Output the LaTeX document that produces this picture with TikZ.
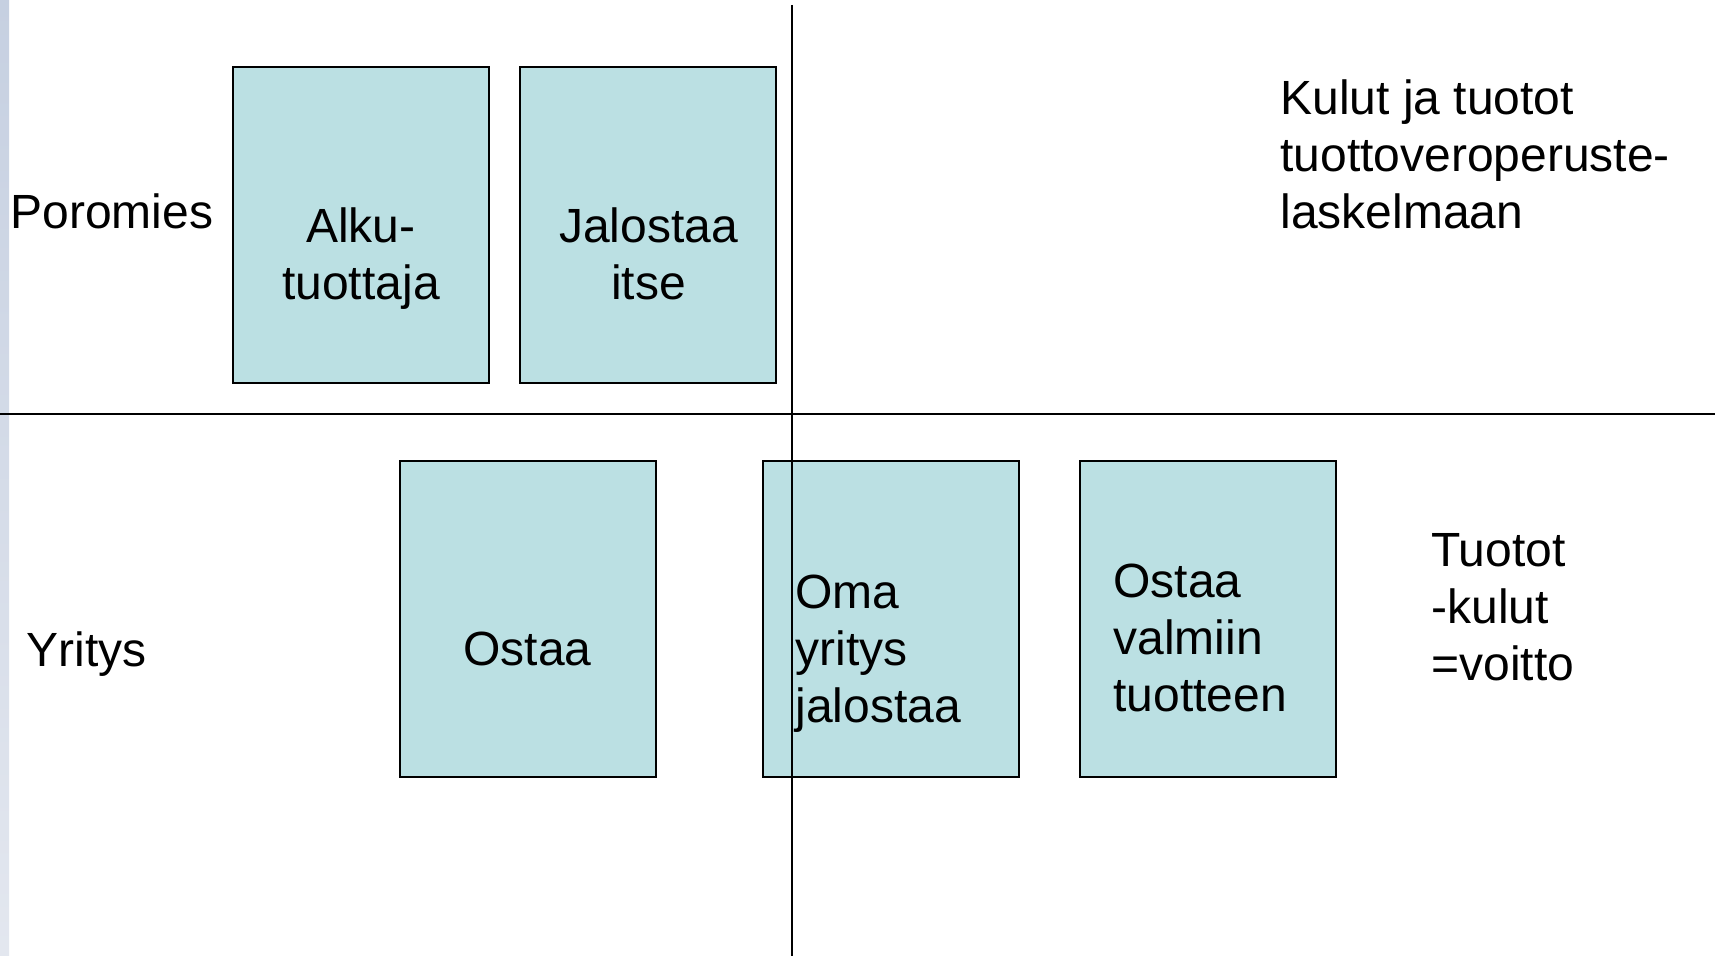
\documentclass[tikz,border=0pt]{standalone}
\usepackage{fontspec}
\setmainfont{Liberation Sans}
\definecolor{boxfill}{HTML}{BBE0E3}
\definecolor{striptop}{HTML}{C6D0E1}
\definecolor{stripmid}{HTML}{A8B8D1}
\definecolor{stripbot}{HTML}{E3E7EF}
\tikzset{
  cell/.style={draw=black, line width=1pt, fill=boxfill, anchor=north west,
    minimum width=128pt, minimum height=158pt, inner sep=0pt},
  say/.style={font=\fontsize{24}{28.5}\selectfont, inner sep=0pt},
  rule/.style={draw=black, line width=1pt},
}
\begin{document}
\begin{tikzpicture}[x=0.5pt, y=-0.5pt]
	\useasboundingbox (0,0) rectangle (1723,956);
	\shade[top color=striptop, middle color=stripmid, bottom color=stripbot]
		(0,0) rectangle (9,956);
	% Poromies row
	\node[cell] (alku) at (232,66) {};
	\node[cell] (jalostaa) at (519,66) {};
	% Yritys row
	\node[cell] (ostaa) at (399,460) {};
	\node[cell] (oma) at (762,460) {};
	\node[cell] (valmiin) at (1079,460) {};
	% texts (base = last line)
	\node[say, anchor=base west] (poromies) at (10,229) {Poromies};
	\node[say, anchor=base west] (yritys) at (26,666) {Yritys};
	\node[say, anchor=base, align=center] (alkutxt) at (361,300) {Alku-\\tuottaja};
	\node[say, anchor=base, align=center] (jalostaatxt) at (648.5,300) {Jalostaa\\itse};
	\node[say, anchor=base] (ostaatxt) at (527.5,665) {Ostaa};
	\node[say, anchor=base west, align=left] (omatxt) at (795,722) {Oma\\yritys\\jalostaa};
	\node[say, anchor=base west, align=left] (valmiintxt) at (1113,711) {Ostaa\\valmiin\\tuotteen};
	\node[say, anchor=base west, align=left] (tuotot) at (1431,680) {Tuotot\\-kulut\\=voitto};
	\node[say, anchor=base west, align=left] (kulut) at (1280,229) {Kulut ja tuotot\\tuottoveroperuste-\\laskelmaan};
	% axes
	\coordinate (west) at (0,414.5);
	\coordinate (east) at (1715,414.5);
	\coordinate (north) at (792,5);
	\coordinate (south) at (792,956);
	\draw[rule] (west) -- (east);
	\draw[rule] (north) -- (south);
\end{tikzpicture}
\end{document}
